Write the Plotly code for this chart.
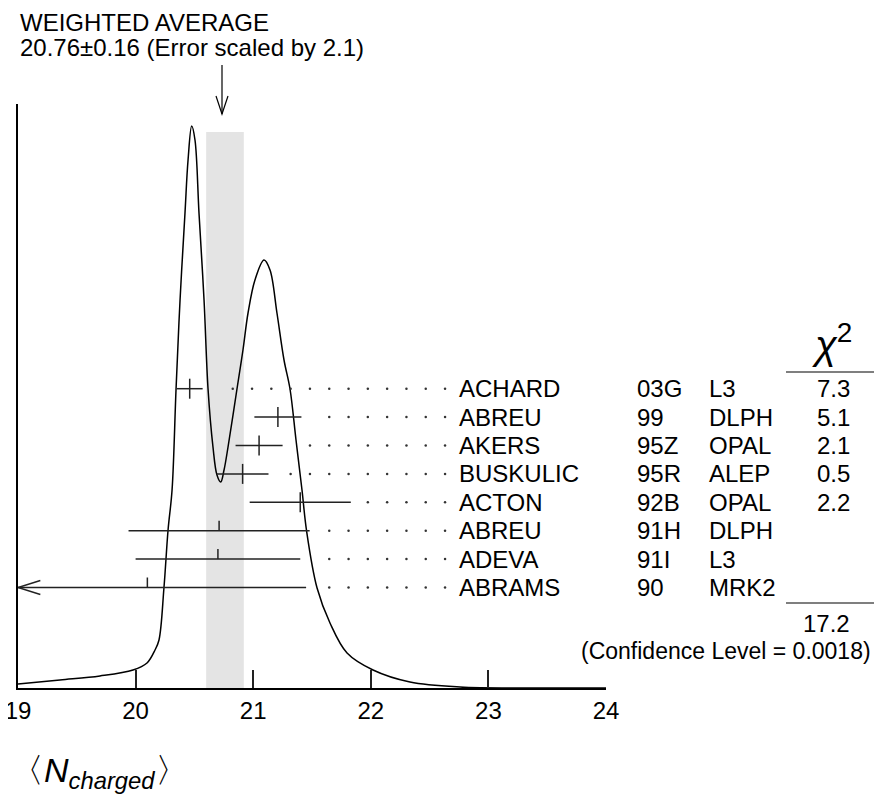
import plotly.graph_objects as go

# ── Datos ─────────────────────────────────────────────────────────────────────
autores = ["ACHARD", "ABREU", "AKERS", "BUSKULIC", "ACTON", "ABREU", "ADEVA", "ABRAMS"]
codigos = ["03G", "99", "95Z", "95R", "92B", "91H", "91I", "90"]
experimentos = ["L3", "DLPH", "OPAL", "ALEP", "OPAL", "DLPH", "L3", "MRK2"]
valores = [20.46, 21.21, 21.05, 20.91, 21.40, 20.71, 20.70, 20.10]
errores = [0.11, 0.20, 0.20, 0.22, 0.43, 0.77, 0.70, 1.35]
chi2 = ["7.3", "5.1", "2.1", "0.5", "2.2", "", "", ""]
chi2_total = "17.2"
conf_level = "0.0018"
promedio = 20.76
promedio_err = 0.16
escala = 2.1

# ideograma
ideo_x = [19.00, 19.357, 19.697, 19.978, 20.097, 20.165, 20.199, 20.241, 20.276, 20.310,
          20.344, 20.378, 20.420, 20.446, 20.477, 20.505, 20.539, 20.582, 20.616, 20.658,
          20.692, 20.724, 20.752, 20.786, 20.862, 20.913, 20.956, 21.015, 21.092, 21.143,
          21.202, 21.262, 21.313, 21.364, 21.415, 21.454, 21.543, 21.653, 21.798, 22.019,
          22.333, 22.759, 23.439, 24.0]
ideo_y = [4, 8, 12, 18, 25, 38, 48, 100, 158, 198,
          299, 388, 475, 528, 562, 548, 475, 388, 299, 241,
          213, 206, 218, 241, 299, 338, 375, 408, 428, 418,
          375, 328, 299, 248, 198, 157, 100, 65, 35, 18,
          6, 1, 0, 0]

# ── Geometría (píxeles de la imagen; la página añade 8 px de margen) ─────────
MARGEN = 8
W, H = 882 - 2 * MARGEN, 812 - 2 * MARGEN
EJE_Y, TOPE_Y = 688, 104
EJE_X0, EJE_X1 = 18, 606
filas_py = [388.7 + 28.4 * i for i in range(len(autores))]
fila_y = [EJE_Y - p for p in filas_py]

def px(x):
    return (x - MARGEN) / W

def py(y):
    return 1 - (y - MARGEN) / H

FUENTE = "Liberation Sans, Arial, sans-serif"
NEGRO = "#222"
TAM = 24

fig = go.Figure()

# banda del promedio
fig.add_shape(type="rect", x0=promedio - promedio_err, x1=promedio + promedio_err,
              y0=0, y1=EJE_Y - 132, fillcolor="#e4e4e4", line_width=0, layer="below")

# ideograma
fig.add_trace(go.Scatter(x=ideo_x, y=ideo_y, mode="lines", line=dict(color="black", width=1.5),
                         line_shape="spline", hoverinfo="skip"))

# puntos de guía
paso = 19.3 / 117.6
grilla = [20.826 + paso * k for k in range(12)]
dx, dy = [], []
for v, e, y in zip(valores, errores, fila_y):
    for g in grilla:
        if g > v + e + 0.1:
            dx.append(g)
            dy.append(y)
fig.add_trace(go.Scatter(x=dx, y=dy, mode="markers", marker=dict(size=2.5, color="#333"),
                         hoverinfo="skip"))

# mediciones
arriba = [10, 10, 10, 10, 10, 10, 10, 10]
abajo = [10, 10, 10, 10, 10, 0, 0, 0]
fig.add_trace(go.Scatter(
    x=valores, y=fila_y, mode="markers", marker=dict(size=0.1, color=NEGRO),
    error_x=dict(type="data", array=errores, width=0, thickness=1.5, color=NEGRO),
    error_y=dict(type="data", array=arriba, arrayminus=abajo, width=0, thickness=1.5, color=NEGRO),
    hoverinfo="skip"))

# flecha izquierda (ABRAMS fuera de escala)
yA = fila_y[-1]
fig.add_trace(go.Scatter(x=[19.19, 19.0, 19.19], y=[yA + 7, yA, yA - 7], mode="lines",
                         line=dict(color=NEGRO, width=1.5), hoverinfo="skip"))

# flecha del promedio
fig.add_shape(type="line", xref="paper", yref="paper", x0=px(222), x1=px(222),
              y0=py(65), y1=py(114), line=dict(color="black", width=1.2))
fig.add_shape(type="path", xref="paper", yref="paper",
              path=f"M {px(216)} {py(96)} L {px(222)} {py(114)} L {px(228)} {py(96)}",
              line=dict(color="black", width=1.2))

anot = []
def texto(t, x, y, xanchor="left", size=TAM):
    anot.append(dict(text=t, x=px(x), y=py(y), xref="paper", yref="paper", showarrow=False,
                     xanchor=xanchor, yanchor="middle",
                     font=dict(size=size, color="black", family=FUENTE)))

texto("WEIGHTED AVERAGE", 18, 22)
texto(f"{promedio:.2f}±{promedio_err:.2f} (Error scaled by {escala})", 18, 47)

for i in range(len(autores)):
    yy = filas_py[i]
    texto(autores[i], 457, yy)
    texto(codigos[i], 635, yy)
    texto(experimentos[i], 707, yy)
    if chi2[i]:
        texto(chi2[i], 852, yy, xanchor="right")

texto("<i>χ</i><sup>2</sup>", 832, 342, xanchor="center", size=40)
texto(chi2_total, 852, 623, xanchor="right")
texto(f"(Confidence Level = {conf_level})", 873, 651, xanchor="right", size=23)
texto("〈<i>N</i><sub><i>charged</i></sub>〉", 8, 772, size=34)

for y0 in (372, 603):
    fig.add_shape(type="line", xref="paper", yref="paper", x0=px(786), x1=px(874),
                  y0=py(y0), y1=py(y0), line=dict(color="black", width=1.2))

fig.update_layout(
    width=W, height=H, showlegend=False,
    paper_bgcolor="white", plot_bgcolor="white",
    margin=dict(l=0, r=0, t=0, b=0, autoexpand=False),
    annotations=anot,
    font=dict(family=FUENTE, color="black", size=TAM),
)
fig.update_xaxes(domain=[px(EJE_X0), px(EJE_X1)], range=[19, 24], showgrid=False, zeroline=False,
                 showline=True, linecolor="black", linewidth=1.5, ticks="inside", ticklen=18,
                 tickwidth=1.5, tickcolor=NEGRO, tickvals=[19, 20, 21, 22, 23, 24],
                 ticklabeloverflow="allow",
                 tickfont=dict(size=TAM, family=FUENTE), automargin=False, fixedrange=True)
fig.update_yaxes(domain=[py(EJE_Y), py(TOPE_Y)], range=[0, EJE_Y - TOPE_Y], showgrid=False,
                 zeroline=False, showline=True, linecolor="black", linewidth=1.5,
                 showticklabels=False, ticks="", automargin=False, fixedrange=True)

fig.write_html("out.html")
